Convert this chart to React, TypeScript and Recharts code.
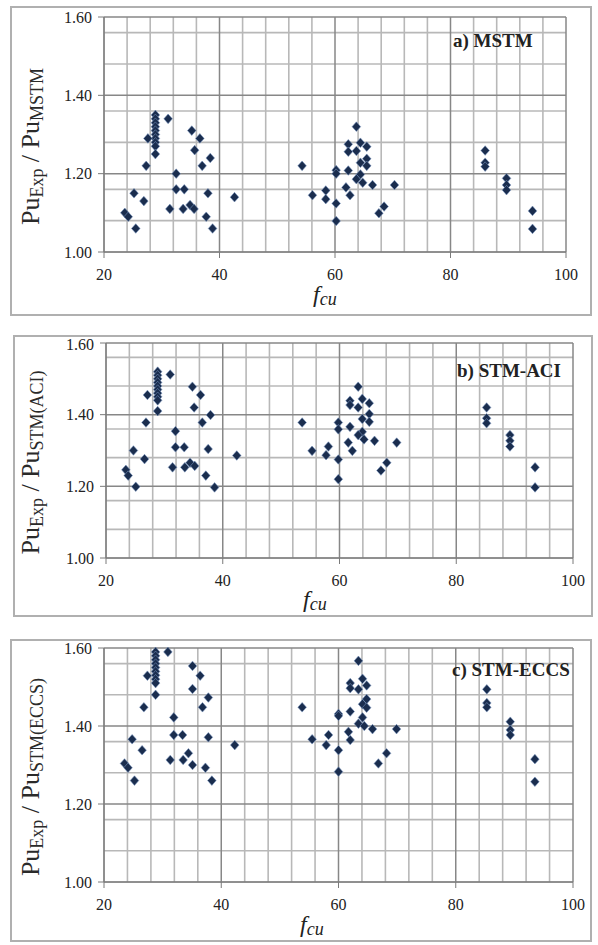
import React from 'react';
import {
  ScatterChart,
  Scatter,
  XAxis,
  YAxis,
  CartesianGrid,
} from 'recharts';

// [fcu, Pu_Exp / Pu_model]
const mstmPoints: [number, number][] = [
  [28.9, 1.35], [28.9, 1.34], [28.9, 1.33], [28.9, 1.32], [28.9, 1.31],
  [28.9, 1.30], [28.9, 1.29], [28.9, 1.28], [28.9, 1.27], [28.9, 1.25],
  [31.1, 1.34], [27.6, 1.29], [27.3, 1.22], [35.2, 1.31], [36.6, 1.29],
  [35.7, 1.26], [38.4, 1.24], [37.0, 1.22], [32.5, 1.20], [32.5, 1.16],
  [33.9, 1.16], [38.0, 1.15], [42.6, 1.14], [25.2, 1.15], [26.9, 1.13],
  [31.4, 1.11], [33.7, 1.11], [34.9, 1.12], [35.6, 1.11], [37.7, 1.09],
  [23.6, 1.10], [24.2, 1.09], [25.5, 1.06], [38.8, 1.06],
  [54.3, 1.22], [63.7, 1.32], [62.3, 1.275], [62.3, 1.256], [64.4, 1.279],
  [65.5, 1.269], [63.7, 1.258], [64.4, 1.228], [65.5, 1.238], [65.5, 1.22],
  [60.2, 1.209], [60.2, 1.20], [62.3, 1.208], [64.4, 1.198], [63.7, 1.186],
  [64.8, 1.177], [66.5, 1.171], [70.3, 1.171], [61.9, 1.165], [62.6, 1.145],
  [58.4, 1.157], [58.4, 1.135], [56.1, 1.145], [60.2, 1.124], [68.5, 1.116],
  [67.6, 1.099], [60.2, 1.079],
  [86.0, 1.259], [86.0, 1.228], [86.0, 1.218], [89.7, 1.188], [89.7, 1.171],
  [89.7, 1.158], [94.2, 1.105], [94.2, 1.059],
];

const aciPoints: [number, number][] = [
  [28.85, 1.52], [28.85, 1.51], [28.85, 1.50], [28.85, 1.49], [28.85, 1.48],
  [28.85, 1.47], [28.85, 1.46], [28.85, 1.45], [28.85, 1.44], [28.85, 1.41],
  [31.0, 1.512], [27.1, 1.455], [34.8, 1.478], [36.2, 1.455], [35.1, 1.42],
  [37.9, 1.399], [36.5, 1.378], [26.85, 1.378], [31.9, 1.354], [31.9, 1.309],
  [33.4, 1.309], [37.5, 1.304], [42.4, 1.286], [24.7, 1.30], [26.6, 1.276],
  [31.4, 1.253], [33.5, 1.253], [34.4, 1.266], [35.2, 1.257], [37.1, 1.23],
  [23.4, 1.246], [23.8, 1.23], [25.1, 1.199], [38.6, 1.197],
  [53.6, 1.378], [63.2, 1.478], [61.8, 1.439], [61.8, 1.427], [63.9, 1.444],
  [65.1, 1.432], [63.2, 1.42], [65.1, 1.402], [63.9, 1.388], [65.1, 1.38],
  [59.8, 1.378], [59.8, 1.359], [61.8, 1.366], [63.9, 1.352], [63.2, 1.343],
  [64.2, 1.331], [66.0, 1.327], [69.8, 1.322], [61.5, 1.322], [62.2, 1.299],
  [58.1, 1.311], [57.7, 1.287], [55.3, 1.299], [59.8, 1.275], [68.1, 1.266],
  [67.1, 1.244], [59.8, 1.22],
  [85.2, 1.42], [85.2, 1.39], [85.2, 1.376], [89.2, 1.343], [89.2, 1.327],
  [89.2, 1.311], [93.5, 1.253], [93.5, 1.197],
];

const eccsPoints: [number, number][] = [
  [28.8, 1.59], [28.8, 1.58], [28.8, 1.57], [28.8, 1.56], [28.8, 1.55],
  [28.8, 1.54], [28.8, 1.53], [28.8, 1.52], [28.8, 1.51], [28.8, 1.48],
  [30.9, 1.59], [27.4, 1.529], [35.1, 1.554], [36.4, 1.529], [35.1, 1.495],
  [37.8, 1.473], [36.8, 1.448], [26.8, 1.448], [31.9, 1.422], [31.9, 1.377],
  [33.4, 1.377], [37.8, 1.371], [42.3, 1.351], [24.8, 1.366], [26.5, 1.338],
  [31.3, 1.313], [33.5, 1.313], [34.4, 1.33], [35.1, 1.30], [37.3, 1.293],
  [23.5, 1.304], [24.1, 1.293], [25.2, 1.26], [38.4, 1.26],
  [53.8, 1.448], [63.4, 1.567], [62.0, 1.51], [62.0, 1.497], [64.1, 1.521],
  [64.8, 1.504], [63.4, 1.494], [64.8, 1.469], [64.1, 1.456], [64.8, 1.447],
  [60.0, 1.431], [60.0, 1.426], [62.0, 1.437], [64.1, 1.422], [63.4, 1.406],
  [64.4, 1.40], [65.8, 1.392], [69.9, 1.392], [61.7, 1.385], [62.0, 1.364],
  [58.3, 1.377], [57.9, 1.351], [55.5, 1.366], [60.0, 1.338], [68.2, 1.33],
  [66.8, 1.304], [60.0, 1.283],
  [85.3, 1.494], [85.3, 1.459], [85.3, 1.448], [89.3, 1.411], [89.3, 1.39],
  [89.3, 1.377], [93.5, 1.315], [93.5, 1.257],
];

const xMajor = [20, 40, 60, 80, 100];
const yMajor = [1.0, 1.2, 1.4, 1.6];
const xMinor = [24, 28, 32, 36, 44, 48, 52, 56, 64, 68, 72, 76, 84, 88, 92, 96];
const yMinor = [1.04, 1.08, 1.12, 1.16, 1.24, 1.28, 1.32, 1.36, 1.44, 1.48, 1.52, 1.56];

const serif = "'Liberation Serif', 'Times New Roman', serif";

type Box = {l: number; t: number; r: number; b: number};

type PanelProps = {
  points: [number, number][];
  title: string;
  sub: string;
  box: Box;
  plot: Box;
  titlePos: [number, number];
  xLabelPos: [number, number];
};

const Diamond = (props: any) => {
  const {cx, cy} = props;
  if (cx == null || cy == null) return null;
  return (
    <polygon
      points={`${cx},${cy - 4.8} ${cx + 4.3},${cy} ${cx},${cy + 4.8} ${cx - 4.3},${cy}`}
      fill='#1a2d4e'
      stroke='#7895c0'
      strokeWidth={0.8}
      strokeOpacity={0.7}
    />
  );
};

const Panel: React.FC<PanelProps> = ({points, title, sub, box, plot, titlePos, xLabelPos}) => {
  const data = points.map(([fcu, ratio]) => ({fcu, ratio}));
  const width = box.r - box.l;
  const height = box.b - box.t;
  const yLabelX = 39 - box.l;
  const yLabelY = (plot.t + plot.b) / 2 + 12 - box.t;

  const yLabel = () => (
    <text
      x={yLabelX}
      y={yLabelY}
      transform={`rotate(-90 ${yLabelX} ${yLabelY})`}
      textAnchor='middle'
      fontFamily={serif}
      fill='#2a2a2a'
    >
      <tspan fontSize={26}>Pu</tspan>
      <tspan fontSize={18} dy={4}>Exp</tspan>
      <tspan fontSize={26} dy={-4}> / Pu</tspan>
      <tspan fontSize={18} dy={4}>{sub}</tspan>
    </text>
  );

  const xLabel = () => (
    <text
      x={xLabelPos[0] - box.l}
      y={xLabelPos[1] - box.t}
      fontFamily={serif}
      fontStyle='italic'
      fill='#222'
    >
      <tspan fontSize={24}>f</tspan>
      <tspan fontSize={18} dy={3}>cu</tspan>
    </text>
  );

  return (
    <>
      <div
        style={{
          position: 'absolute',
          left: box.l,
          top: box.t,
          width: width,
          height: height,
          boxSizing: 'border-box',
          border: '2px solid #b0b0b0',
        }}
      />
      <div style={{position: 'absolute', left: box.l, top: box.t}}>
        <ScatterChart
          width={width}
          height={height}
          margin={{top: plot.t - box.t, right: box.r - plot.r, left: 0, bottom: 0}}
        >
          <CartesianGrid
            stroke='#b8b8b8'
            strokeWidth={1.6}
            verticalValues={xMinor}
            horizontalValues={yMinor}
          />
          <CartesianGrid
            stroke='#878787'
            strokeWidth={1.5}
            verticalValues={xMajor}
            horizontalValues={yMajor}
          />
          <XAxis
            type='number'
            dataKey='fcu'
            domain={[20, 100]}
            ticks={xMajor}
            height={box.b - plot.b}
            stroke='#7a7a7a'
            tickSize={6}
            tickMargin={11}
            tick={{fill: '#222', fontSize: 16, fontFamily: serif}}
            label={{content: xLabel}}
          />
          <YAxis
            type='number'
            dataKey='ratio'
            domain={[1.0, 1.6]}
            ticks={yMajor}
            width={plot.l - box.l}
            stroke='#7a7a7a'
            tickSize={6}
            tickMargin={6}
            tickFormatter={(v: number) => v.toFixed(2)}
            tick={{fill: '#222', fontSize: 16, fontFamily: serif}}
            label={{content: yLabel}}
          />
          <Scatter data={data} shape={Diamond} isAnimationActive={false} />
        </ScatterChart>
      </div>
      <div
        style={{
          position: 'absolute',
          left: titlePos[0],
          top: titlePos[1] - 15,
          fontFamily: serif,
          fontWeight: 'bold',
          fontSize: 19,
          lineHeight: '19px',
          color: '#222',
          whiteSpace: 'nowrap',
        }}
      >
        {title}
      </div>
    </>
  );
};

export default function App() {
  return (
    <div style={{position: 'absolute', left: 0, top: 0, width: 598, height: 945, background: '#fff'}}>
      <Panel
        points={mstmPoints}
        title='a) MSTM'
        sub='MSTM'
        box={{l: 10, t: 6, r: 592, b: 316}}
        plot={{l: 104, t: 17, r: 566, b: 252}}
        titlePos={[453, 46]}
        xLabelPos={[313, 302]}
      />
      <Panel
        points={aciPoints}
        title='b) STM-ACI'
        sub='STM(ACI)'
        box={{l: 13, t: 335, r: 593, b: 617}}
        plot={{l: 106, t: 343, r: 573, b: 558}}
        titlePos={[457, 376]}
        xLabelPos={[303, 607]}
      />
      <Panel
        points={eccsPoints}
        title='c) STM-ECCS'
        sub='STM(ECCS)'
        box={{l: 10, t: 639, r: 592, b: 942}}
        plot={{l: 104, t: 648, r: 573, b: 882}}
        titlePos={[452, 675]}
        xLabelPos={[300, 932]}
      />
    </div>
  );
}
